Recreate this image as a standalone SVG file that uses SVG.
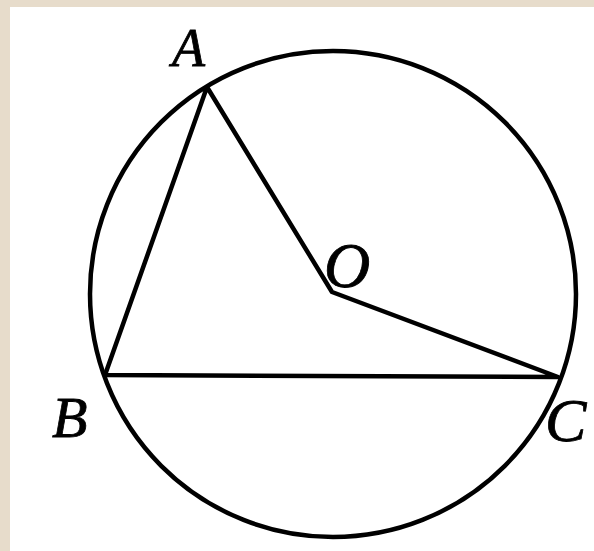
<svg xmlns="http://www.w3.org/2000/svg" width="594" height="551" viewBox="0 0 594 551">
<style>
.ln{stroke:#000;stroke-width:4.5;fill:none;stroke-linecap:round;stroke-linejoin:round}
.lb{font-family:"Liberation Serif","Times New Roman",serif;font-style:italic;font-size:58px;fill:#000;stroke:#000;stroke-width:0.8}
</style>
<rect x="0" y="0" width="594" height="551" fill="#e7dccb"/>
<rect x="10" y="7" width="584" height="544" fill="#fff"/>
<g id="circle"><circle class="ln" cx="333" cy="294" r="243"/></g>
<g id="connectors">
<path class="ln" d="M207 87 L105 375 L558 377 L332 292 Z"/>
</g>
<g id="A"><text class="lb" x="172" y="66" style="font-size:54px">A</text></g>
<g id="B"><text class="lb" x="52" y="437">B</text></g>
<g id="C"><text class="lb" x="545" y="441" style="font-size:62px">C</text></g>
<g id="O"><text class="lb" x="324" y="287" style="font-size:64px">O</text></g>
</svg>
